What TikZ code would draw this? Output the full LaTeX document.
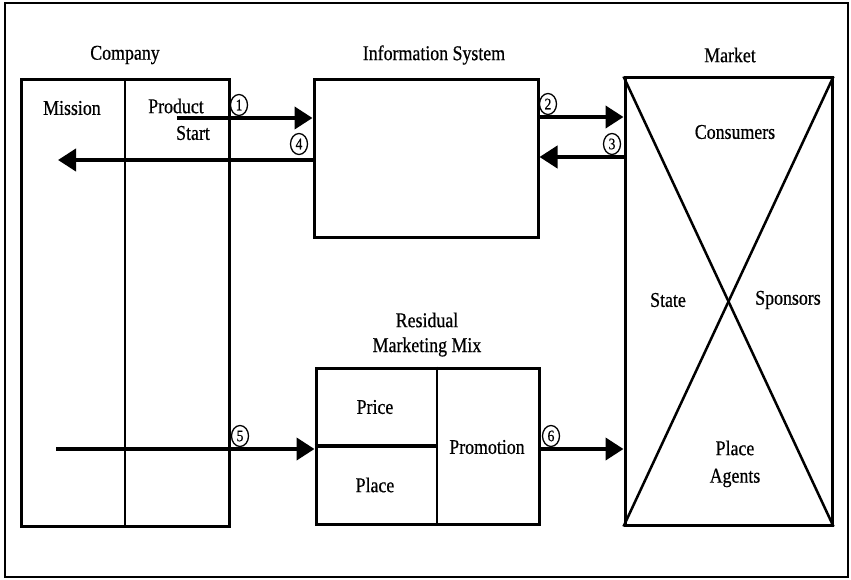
\documentclass[tikz,border=0pt]{standalone}
\usepackage{fontspec}
\setmainfont{Liberation Serif}[FakeStretch=0.85,FakeBold=0.6]
\usetikzlibrary{arrows.meta,shapes.geometric}
\tikzset{
  box/.style={draw, line width=3pt, inner sep=0pt},
  divider/.style={line width=2pt},
  arr/.style={line width=4pt, -{Triangle[length=18pt,width=22pt]}},
  txt/.style={font=\fontsize{21}{24}\selectfont, inner sep=0pt},
  num/.style={ellipse, draw, line width=1.3pt, inner sep=0pt, minimum width=17pt, minimum height=21pt, font=\fontsize{16}{16}\selectfont},
}
\begin{document}
\begin{tikzpicture}[x=1pt,y=-1pt]
\useasboundingbox (0,0) rectangle (851,580);
% outer frame
\draw[line width=2.5pt] (5,3) rectangle (848,577);
% boxes
\node[box, minimum width=208pt, minimum height=446pt] (company) at (125,303) {};
\node[box, minimum width=224pt, minimum height=157pt] (info) at (426,158.5) {};
\node[box, minimum width=223pt, minimum height=156pt] (mix) at (427.5,446) {};
\node[box, minimum width=207pt, minimum height=447pt] (market) at (728.5,301.5) {};
% dividers
\draw[divider] (company.north) -- (company.south);
\coordinate (mixdiv) at (437,0);
\draw[divider] (mix.north -| mixdiv) -- (mix.south -| mixdiv);
\draw[line width=3.5pt] (mix.west) -- (mix.center -| mixdiv);
\draw[line width=2.5pt] (market.north west) -- (market.south east);
\draw[line width=2.5pt] (market.north east) -- (market.south west);
% titles
\node[txt] (tcompany) at (125,55) {Company};
\node[txt] (tinfo) at (434,55) {Information System};
\node[txt] (tmarket) at (730,55) {Market};
\node[txt] (tresid) at (427,320) {Residual};
\node[txt] (tmix) at (427,347) {Marketing Mix};
% inner texts
\node[txt] (mission) at (72,108) {Mission};
\node[txt] (product) at (176,106) {Product};
\node[txt] (start) at (193,133) {Start};
\node[txt] (price) at (375,407) {Price};
\node[txt] (place) at (375,485) {Place};
\node[txt] (promo) at (487,447) {Promotion};
\node[txt] (consumers) at (735,132) {Consumers};
\node[txt] (state) at (668,300) {State};
\node[txt] (sponsors) at (788,300) {Sponsors};
\node[txt] (pa1) at (735,448) {Place};
\node[txt] (pa2) at (735,478) {Agents};
% arrows
\coordinate (a1s) at (177,118);
\draw[arr] (a1s) -- (a1s -| info.west);
\coordinate (a4e) at (58,160);
\draw[arr] (a4e -| info.west) -- (a4e);
\coordinate (y2) at (0,117);
\draw[arr] (info.east |- y2) -- (market.west |- y2);
\coordinate (y3) at (0,157);
\draw[arr] (market.west |- y3) -- (info.east |- y3);
\coordinate (a5s) at (56,449);
\draw[arr] (a5s) -- (a5s -| mix.west);
\coordinate (y6) at (0,449);
\draw[arr] (mix.east |- y6) -- (market.west |- y6);
% numbers
\node[num] (n1) at (239,105) {1};
\node[num] (n4) at (299,144) {4};
\node[num] (n2) at (548,104) {2};
\node[num] (n3) at (612,144) {3};
\node[num] (n5) at (240,436) {5};
\node[num] (n6) at (551,436) {6};
\end{tikzpicture}
\end{document}
